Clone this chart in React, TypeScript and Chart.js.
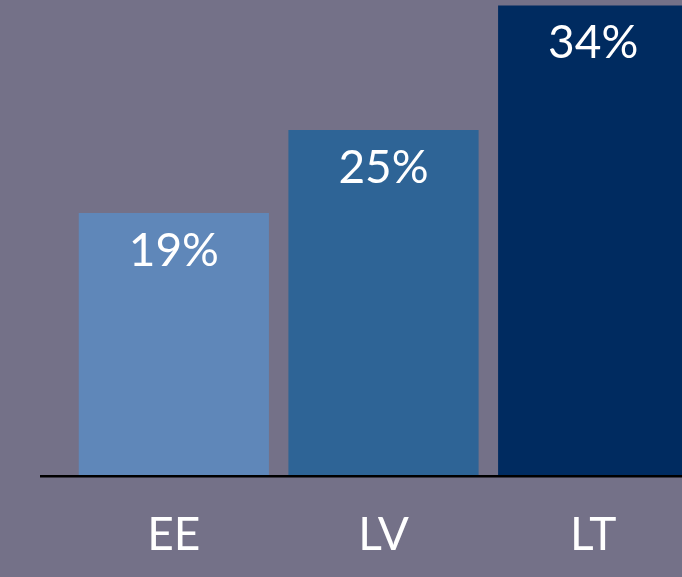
import React, { useEffect, useRef } from "react";
import { Chart, registerables } from "chart.js";

Chart.register(...registerables);

const categories = ["EE", "LV", "LT"];
const values = [19, 25, 34];
const valueLabels = ["19%", "25%", "34%"];
const barColors = ["#5f87b9", "#2e6496", "#002b60"];

const BG = "#747188";
const FONT = "Lato, 'Open Sans', sans-serif";

export default function App() {
  const ref = useRef<HTMLCanvasElement | null>(null);

  useEffect(() => {
    if (!ref.current) return;
    const labelPlugin = {
      id: "valueLabels",
      afterDatasetsDraw(chart: any) {
        const ctx = chart.ctx;
        const meta = chart.getDatasetMeta(0);
        const area = chart.chartArea;
        ctx.save();
        // axis line
        ctx.strokeStyle = "#000000";
        ctx.lineWidth = 2.5;
        ctx.beginPath();
        ctx.moveTo(40, area.bottom + 0.5);
        ctx.lineTo(chart.width, area.bottom + 0.5);
        ctx.stroke();
        // value labels
        ctx.fillStyle = "#ffffff";
        ctx.font = `46px ${FONT}`;
        ctx.textAlign = "center";
        ctx.textBaseline = "middle";
        meta.data.forEach((bar: any, i: number) => {
          ctx.fillText(valueLabels[i], bar.x, bar.y + 38);
        });
        ctx.restore();
      },
    };
    const chart = new Chart(ref.current, {
      type: "bar",
      data: {
        labels: categories,
        datasets: [
          {
            data: values,
            backgroundColor: barColors,
            borderWidth: 0,
            categoryPercentage: 1,
            barPercentage: 0.907,
          },
        ],
      },
      options: {
        animation: false,
        responsive: false,
        maintainAspectRatio: false,
        layout: { padding: { left: 69, right: 22, top: 0, bottom: 16 } },
        plugins: {
          legend: { display: false },
          tooltip: { enabled: false },
        },
        scales: {
          x: {
            grid: { display: false, drawTicks: false },
            border: { display: false },
            ticks: {
              color: "#ffffff",
              font: { family: FONT, size: 46 },
              padding: 32,
            },
          },
          y: {
            display: false,
            min: 0,
            max: 34.4,
          },
        },
      },
      plugins: [labelPlugin],
    });
    return () => chart.destroy();
  }, []);

  return (
    <div
      style={{
        position: "fixed",
        left: 0,
        top: 0,
        width: 682,
        height: 577,
        overflow: "hidden",
        background: BG,
      }}
    >
      <canvas ref={ref} width={720} height={611} style={{ display: "block", width: 720, height: 611 }} />
    </div>
  );
}
